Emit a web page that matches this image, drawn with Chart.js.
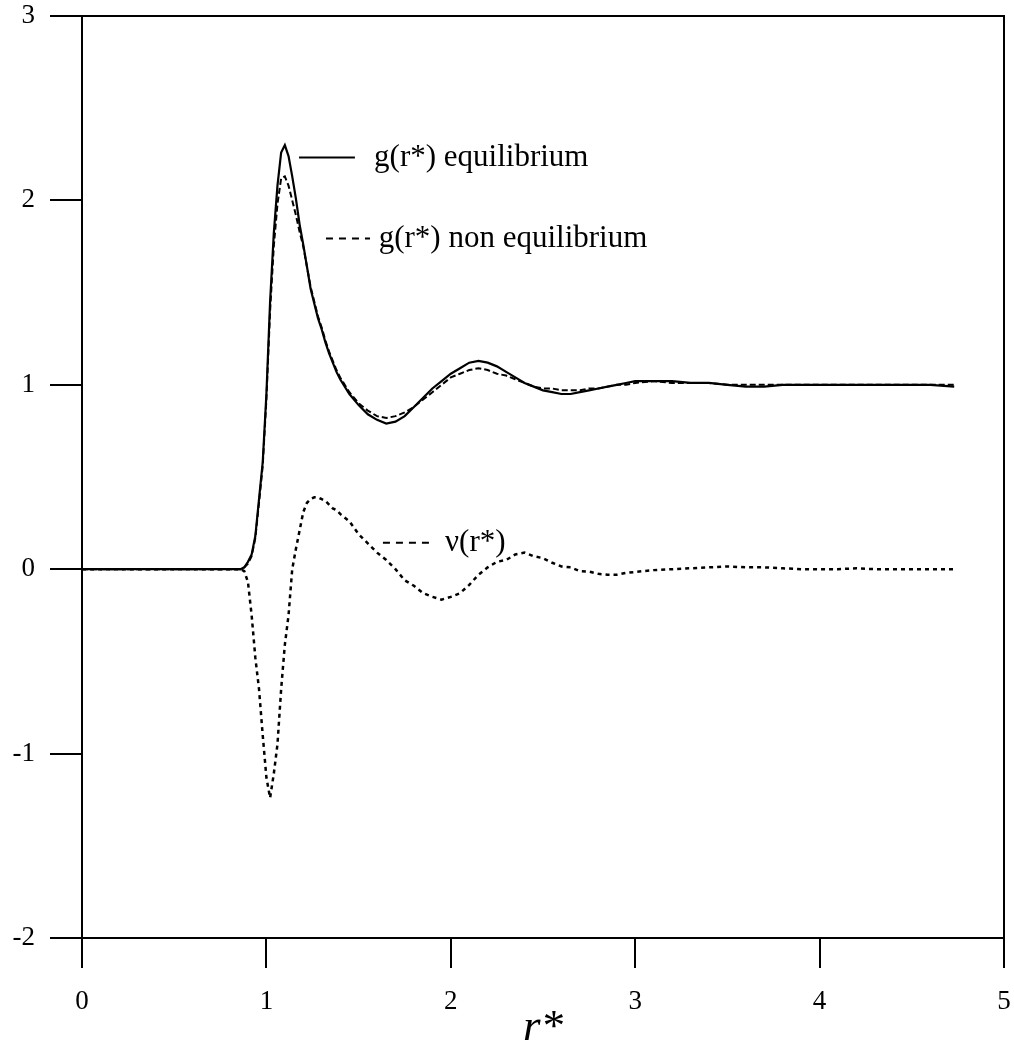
<!DOCTYPE html>
<html>
<head>
<meta charset="utf-8">
<script src="https://cdn.jsdelivr.net/npm/chart.js@4/dist/chart.umd.min.js"></script>
<style>
html,body{margin:0;padding:0;background:#fff;}
#wrap{width:1014px;height:1042px;}
</style>
</head>
<body>
<div id="wrap"><canvas id="c" width="1014" height="1042"></canvas></div>
<script>
const rValues = [0, 0.2, 0.4, 0.6, 0.8, 0.86, 0.88, 0.90, 0.92, 0.94, 0.96, 0.98, 1.00, 1.02, 1.04, 1.06, 1.08, 1.10, 1.12, 1.14, 1.16, 1.18, 1.20, 1.22, 1.24, 1.26, 1.28, 1.30, 1.32, 1.34, 1.36, 1.38, 1.40, 1.45, 1.50, 1.55, 1.60, 1.65, 1.70, 1.75, 1.80, 1.85, 1.90, 1.95, 2.00, 2.05, 2.10, 2.15, 2.20, 2.25, 2.30, 2.35, 2.40, 2.45, 2.50, 2.55, 2.60, 2.65, 2.70, 2.75, 2.80, 2.85, 2.90, 2.95, 3.00, 3.10, 3.20, 3.30, 3.40, 3.50, 3.60, 3.70, 3.80, 3.90, 4.00, 4.10, 4.20, 4.30, 4.40, 4.50, 4.60, 4.73];

const gEquilibrium = [0, 0, 0, 0, 0, 0,
  0.01, 0.04, 0.08, 0.18, 0.38, 0.58, 0.95, 1.45, 1.82, 2.08, 2.26, 2.30, 2.24, 2.13, 2.01, 1.87, 1.76, 1.64, 1.52, 1.44, 1.36, 1.30, 1.23, 1.17, 1.12, 1.07, 1.03,
  0.95, 0.89, 0.84, 0.81, 0.79, 0.80, 0.83, 0.88, 0.93, 0.98, 1.02, 1.06, 1.09, 1.12, 1.13, 1.12, 1.10, 1.07, 1.04, 1.01, 0.99, 0.97, 0.96, 0.95, 0.95, 0.96, 0.97, 0.98, 0.99, 1.00, 1.01, 1.02,
  1.02, 1.02, 1.01, 1.01, 1.00, 0.99, 0.99, 1.00, 1.00, 1.00, 1.00, 1.00, 1.00, 1.00, 1.00, 1.00,
  0.99];

const gNonEquilibrium = [0, 0, 0, 0, 0, 0,
  0.01, 0.03, 0.07, 0.17, 0.36, 0.56, 0.92, 1.40, 1.75, 1.98, 2.12, 2.13, 2.08, 2.00, 1.92, 1.83, 1.75, 1.64, 1.53, 1.45, 1.37, 1.31, 1.24, 1.18, 1.13, 1.08, 1.04,
  0.96, 0.90, 0.86, 0.83, 0.82, 0.83, 0.85, 0.88, 0.92, 0.96, 1.00, 1.04, 1.06, 1.08, 1.09, 1.08, 1.06, 1.05, 1.03, 1.01, 0.99, 0.98, 0.98, 0.97, 0.97, 0.97, 0.98, 0.98, 0.99, 1.00, 1.00, 1.01,
  1.02, 1.01, 1.01, 1.01, 1.00, 1.00, 1.00, 1.00, 1.00, 1.00, 1.00, 1.00, 1.00, 1.00, 1.00, 1.00,
  1.00];

const nuValues = [0, 0, 0, 0, 0, 0,
  -0.01, -0.07, -0.25, -0.48, -0.65, -0.90, -1.13, -1.24, -1.11, -0.95, -0.65, -0.41, -0.25, 0.00, 0.11, 0.21, 0.31, 0.36, 0.38, 0.39, 0.39, 0.38, 0.37, 0.35, 0.33, 0.32, 0.30,
  0.26, 0.19, 0.14, 0.09, 0.05, 0.00, -0.06, -0.09, -0.13, -0.15, -0.165, -0.15, -0.13, -0.085, -0.03, 0.01, 0.04, 0.05, 0.08, 0.09, 0.07, 0.06, 0.035, 0.015, 0.01, -0.01, -0.013, -0.025, -0.03, -0.03, -0.02, -0.015,
  -0.005, 0, 0.005, 0.01, 0.015, 0.01, 0.01, 0.005, 0, 0, 0, 0.005, 0, 0, 0, 0,
  0];

const xTicks = [0, 1, 2, 3, 4, 5];
const yTicks = [-2, -1, 0, 1, 2, 3];

const seriesNames = ['g(r*) equilibrium', 'g(r*) non equilibrium', '\u03bd(r*)'];
// annotation anchors in data units: line start r, line end r, text r, level
const annotLineStart = [1.177, 1.323, 1.632];
const annotLineEnd = [1.48, 1.562, 1.887];
const annotTextR = [1.584, 1.609, 1.969];
const annotLevel = [2.232, 1.793, 0.144];
const annotDashes = [[], [7, 6], [7, 6]];

const SERIF = "'Liberation Serif', 'Times New Roman', serif";

function toPts(ys){ return rValues.map((x,i)=>({x:x, y:ys[i]})); }

const framePlugin = {
  id: 'frame',
  afterDraw(chart){
    const {ctx, chartArea:a, scales} = chart;
    ctx.save();
    ctx.strokeStyle = '#000';
    ctx.lineWidth = 2;
    ctx.strokeRect(a.left, a.top, a.right - a.left, a.bottom - a.top);
    // annotations
    ctx.fillStyle = '#000';
    ctx.font = '31px ' + SERIF;
    ctx.textBaseline = 'middle';
    ctx.textAlign = 'left';
    for (let i = 0; i < seriesNames.length; i++) {
      const y = scales.y.getPixelForValue(annotLevel[i]);
      const x0 = scales.x.getPixelForValue(annotLineStart[i]);
      const x1 = scales.x.getPixelForValue(annotLineEnd[i]);
      ctx.setLineDash(annotDashes[i]);
      ctx.lineWidth = 2;
      ctx.beginPath(); ctx.moveTo(x0, y); ctx.lineTo(x1, y); ctx.stroke();
      ctx.setLineDash([]);
      ctx.fillText(seriesNames[i], scales.x.getPixelForValue(annotTextR[i]), y);
    }
    ctx.restore();
  }
};

new Chart(document.getElementById('c'), {
  type: 'line',
  data: {
    datasets: [
      { label: seriesNames[0], data: toPts(gEquilibrium), borderColor:'#000', borderWidth:2.2, pointRadius:0, tension:0, fill:false },
      { label: seriesNames[1], data: toPts(gNonEquilibrium), borderColor:'#000', borderWidth:2, borderDash:[6,3], pointRadius:0, tension:0, fill:false },
      { label: seriesNames[2], data: toPts(nuValues), borderColor:'#000', borderWidth:2.5, borderDash:[4,4], pointRadius:0, tension:0, fill:false }
    ]
  },
  options: {
    responsive: false,
    animation: false,
    layout: { padding: { top: 16, right: 10, left: 0, bottom: 0 } },
    plugins: { legend: { display: false }, tooltip: { enabled: false } },
    scales: {
      x: {
        type: 'linear', min: 0, max: 5,
        afterBuildTicks: s => { s.ticks = xTicks.map(v => ({value: v})); },
        afterFit: s => { s.height = 104; s.paddingLeft = 0; s.paddingRight = 0; s.paddingTop = 0; s.paddingBottom = 0; },
        grid: { drawOnChartArea: false, drawTicks: true, tickLength: 30, color: '#000', lineWidth: 2 },
        border: { display: true, color: '#000', width: 2 },
        ticks: { color: '#000', padding: 18, font: { family: SERIF, size: 27 }, maxRotation: 0 },
        title: { display: true, text: 'r*', color: '#000', font: { family: SERIF, size: 45, style: 'italic', lineHeight: 1 }, padding: { top: 0, bottom: -9 } }
      },
      y: {
        type: 'linear', min: -2, max: 3,
        afterBuildTicks: s => { s.ticks = yTicks.map(v => ({value: v})); },
        afterFit: s => { s.width = 82; s.paddingLeft = 0; s.paddingRight = 0; s.paddingTop = 0; s.paddingBottom = 0; },
        grid: { drawOnChartArea: false, drawTicks: true, tickLength: 32, color: '#000', lineWidth: 2 },
        border: { display: true, color: '#000', width: 2 },
        ticks: { color: '#000', padding: 15, font: { family: SERIF, size: 27 } }
      }
    }
  },
  plugins: [framePlugin]
});
</script>
</body>
</html>
